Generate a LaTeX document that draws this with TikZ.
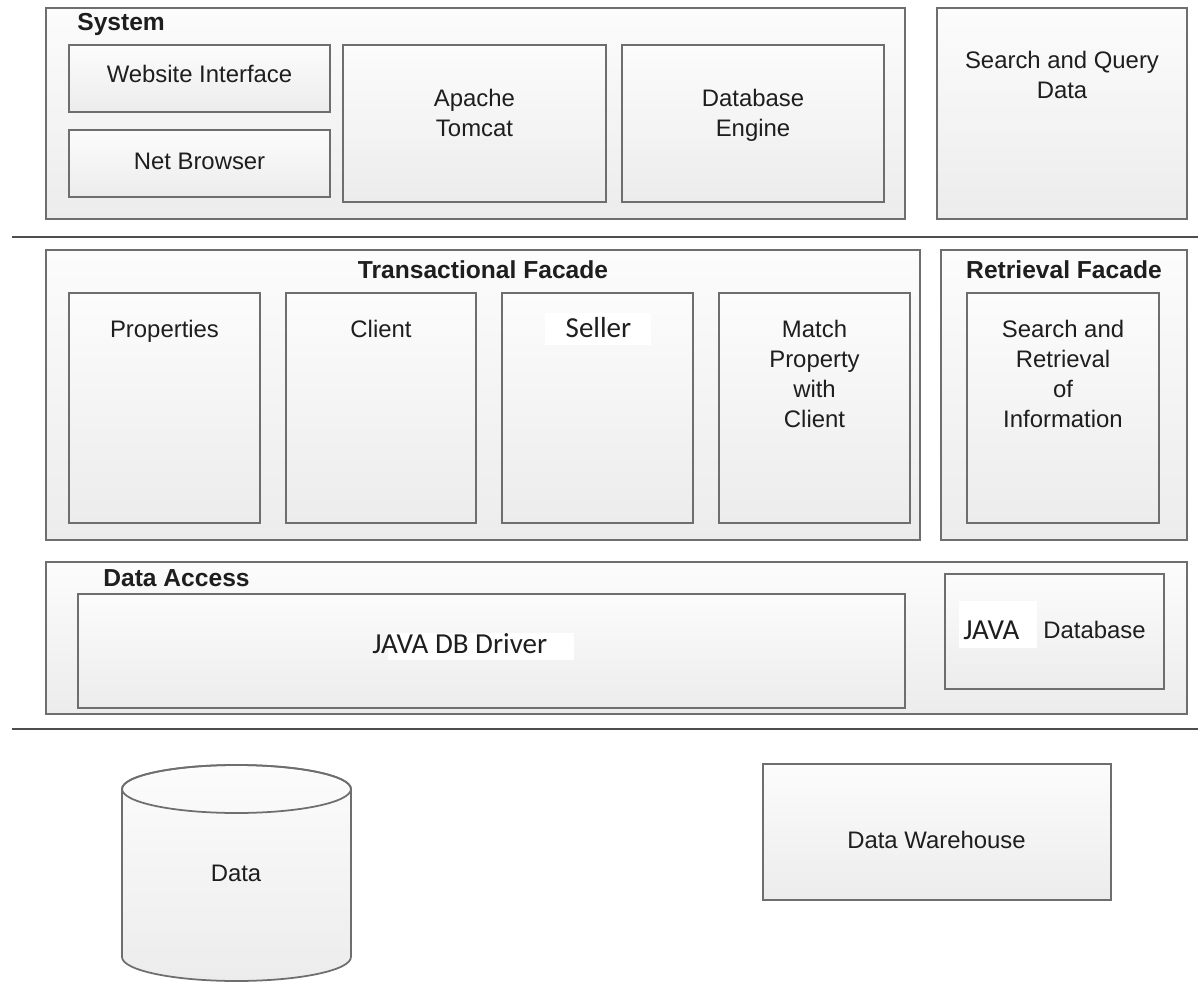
\documentclass[tikz,border=0pt]{standalone}
\usepackage{fontspec}
\setmainfont{Liberation Sans}
\newfontfamily\calib{Carlito}
\usetikzlibrary{fit}
\definecolor{boxline}{HTML}{6E6E6E}
\definecolor{boxtop}{HTML}{FCFCFC}
\definecolor{boxbot}{HTML}{ECECEC}
\definecolor{txtc}{HTML}{1E1E1E}
\definecolor{sepc}{HTML}{4E4E4E}
\tikzset{
  box/.style={draw=boxline, line width=1pt, top color=boxtop, bottom color=boxbot, inner sep=0pt},
  txt/.style={font=\fontsize{13.6}{17.2}\selectfont, text=txtc, inner sep=0pt, text height=9.7pt, text depth=0pt},
  mtxt/.style={font=\fontsize{13.6}{17.2}\selectfont, text=txtc, inner sep=0pt, align=center, anchor=north},
  ttl/.style={font=\fontsize{14}{17}\selectfont\bfseries, text=txtc, inner sep=0pt, text height=10pt, text depth=0pt},
  cal/.style={font=\calib\fontsize{16.5}{20}\selectfont, text=txtc, inner sep=0pt, text height=10.6pt, text depth=0pt},
  sepline/.style={draw=sepc, line width=1.6pt},
}
\begin{document}
\begin{tikzpicture}[x=0.02cm, y=-0.02cm]
\useasboundingbox (0,0) rectangle (1198,983);

% ---------- System layer ----------
\node[box, fit={(46,8)(905,219)}] (system) {};
\node[ttl, anchor=west] (systemT) at (77,21.5) {System};
\node[box, fit={(69,45)(330,112)}] (web) {};
\node[txt] (webT) at (199.5,74) {Website Interface};
\node[box, fit={(69,130)(330,197)}] (net) {};
\node[txt] (netT) at (199.5,161) {Net Browser};
\node[box, fit={(343,45)(606,202)}] (tomcat) {};
\node[mtxt] (tomcatT) at (474.5,88.4) {Apache\\Tomcat};
\node[box, fit={(622,45)(884,202)}] (engine) {};
\node[mtxt] (engineT) at (753,88.4) {Database\\Engine};
\node[box, fit={(937,8)(1187,219)}] (search) {};
\node[mtxt] (searchT) at (1062,50.4) {Search and Query\\Data};

\coordinate (s1a) at (12,237);
\coordinate (s1b) at (1198,237);
\draw[sepline] (s1a) -- (s1b);

% ---------- Facade layer ----------
\node[box, fit={(46,250)(920,540)}] (trans) {};
\node[ttl] (transT) at (483,270) {Transactional Facade};
\node[box, fit={(69,293)(260,523)}] (prop) {};
\node[txt] (propT) at (164.5,328.5) {Properties};
\node[box, fit={(286,293)(476,523)}] (client) {};
\node[txt] (clientT) at (381,328.5) {Client};
\node[box, fit={(502,293)(693,523)}] (seller) {};
\fill[white] (545,313) rectangle (651,345);
\node[cal] (sellerT) at (598.5,328.5) {Seller};
\node[box, fit={(719,293)(910,523)}] (match) {};
\node[mtxt] (matchT) at (814.5,319.4) {Match\\Property\\with\\Client};

\node[box, fit={(941,250)(1187,540)}] (retr) {};
\node[ttl] (retrT) at (1064,270) {Retrieval Facade};
\node[box, fit={(967,293)(1159,523)}] (retrIn) {};
\node[mtxt] (retrInT) at (1063,319.4) {Search and\\Retrieval\\of\\Information};

% ---------- Data access layer ----------
\node[box, fit={(46,562)(1187,714)}] (access) {};
\node[ttl, anchor=west] (accessT) at (103,578) {Data Access};
\node[box, fit={(78,594)(905,708)}] (driver) {};
\fill[white] (388,633) rectangle (574,660);
\node[cal, anchor=west] (driverT) at (372,644) {JAVA DB Driver};
\node[box, fit={(945,574)(1164,689)}] (jdb) {};
\fill[white] (959,601) rectangle (1037,648);
\node[cal, anchor=west] (jdbA) at (963,630) {JAVA};
\node[txt, anchor=west] (jdbB) at (1043,630) {Database};

\coordinate (s2a) at (12,729);
\coordinate (s2b) at (1198,729);
\draw[sepline] (s2a) -- (s2b);

% ---------- Storage ----------
\path[draw=boxline, line width=1pt, top color=boxtop, bottom color=boxbot]
  (122,789) -- (122,957) arc[start angle=180, end angle=360, x radius=2.29cm, y radius=0.48cm]
  -- (351,789) arc[start angle=0, end angle=180, x radius=2.29cm, y radius=0.48cm] -- cycle;
\draw[boxline, line width=1pt] (236.5,789) ellipse [x radius=2.29cm, y radius=0.48cm];
\node[txt] (dataT) at (236,872.5) {Data};

\node[box, fit={(763,764)(1111,900)}] (wh) {};
\node[txt] (whT) at (936.5,840) {Data Warehouse};
\end{tikzpicture}
\end{document}
